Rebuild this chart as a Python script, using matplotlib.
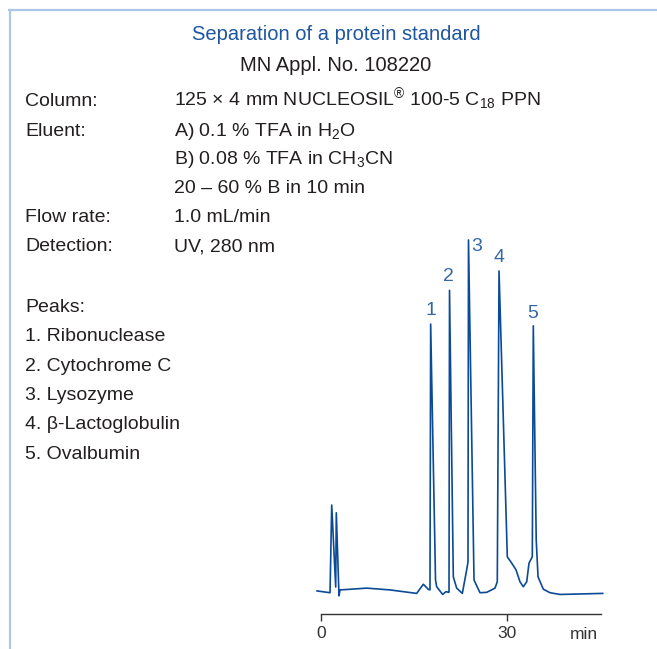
import matplotlib
matplotlib.use("Agg")
import matplotlib.pyplot as plt
from matplotlib.lines import Line2D

plt.rcParams['font.family'] = ['Liberation Sans', 'DejaVu Sans']
plt.rcParams['mathtext.fontset'] = 'custom'
plt.rcParams['mathtext.rm'] = 'Liberation Sans'
plt.rcParams['mathtext.it'] = 'Liberation Sans'

# ---------------- data ----------------
time_min = [-0.59, 1.50, 1.77, 2.41, 2.51, 2.94, 3.10, 4.07, 7.40, 11.1, 15.43, 16.50, 17.33,
            17.57, 17.68, 18.46, 18.65, 19.61, 20.14, 20.58,
            20.63, 20.71, 21.32, 21.86, 22.77, 23.47, 23.68,
            23.76, 24.65, 25.61, 26.69, 28.02, 28.39,
            28.67, 30.00, 30.71, 31.40, 32.04, 32.57, 33.12, 33.49, 34.02,
            34.18, 34.65, 34.94, 35.79, 36.86, 38.47, 45.34]
signal = [0.3, -0.2, 24.7, 1.4, 22.5, -1.1, 0.6, 0.7, 1.1, 0.6, -0.4, 2.2, 0.7,
          0.6, 76.1, 3.4, 1.5, -0.7, 0.1, -0.1,
          0.0, 85.7, 4.3, 1.1, -0.4, 6.3, 8.5,
          100.0, 3.4, -0.2, -0.1, 1.1, 2.9,
          91.2, 10.0, 8.2, 6.3, 2.9, 1.5, 2.9, 8.2, 10.0,
          75.6, 14.8, 4.3, 0.8, -0.2, -0.7, -0.4]

peak_labels = ["1", "2", "3", "4", "5"]
peak_times = [17.68, 20.71, 23.76, 28.67, 34.18]
peak_heights = [76.1, 85.7, 100.0, 91.2, 75.6]

x_ticks = [0, 30]
x_ticklabels = ["0", "30"]
x_unit = "min"

title = "Separation of a protein standard"
subtitle = "MN Appl. No. 108220"
info_rows = [
    ("Column:", r"125 × 4 mm NUCLEOSIL$^{\mathregular{®}}$ 100-5 C$_{\mathregular{18}}$ PPN"),
    ("Eluent:", r"A) 0.1 % TFA in H$_{\mathregular{2}}$O"),
    ("", r"B) 0.08 % TFA in CH$_{\mathregular{3}}$CN"),
    ("", "20 – 60 % B in 10 min"),
    ("Flow rate:", "1.0 mL/min"),
    ("Detection:", "UV, 280 nm"),
]
peak_names = ["Peaks:", "1. Ribonuclease", "2. Cytochrome C", "3. Lysozyme",
              "4. β-Lactoglobulin", "5. Ovalbumin"]

# ---------------- layout ----------------
W, H = 657, 649
DPI = 100
fig = plt.figure(figsize=(W / DPI, H / DPI), dpi=DPI)
fig.patch.set_facecolor("white")

def fx(px):
    return px / W

def fy(py):
    return 1 - py / H

TEXT = "#231f20"
BLUE_T = "#1f56a0"
LINE = "#0b4a97"
LABEL = "#3567a6"
FRAME = "#adc6e8"
FS = 14.0
FS_T = 14.5

# frame (top and left borders)
fig.add_artist(Line2D([fx(9), fx(657)], [fy(10), fy(10)], color=FRAME, lw=1.6,
                      transform=fig.transFigure))
fig.add_artist(Line2D([fx(10), fx(10)], [fy(10), fy(649)], color=FRAME, lw=1.6,
                      transform=fig.transFigure))

fig.text(fx(336), fy(40), title, color=BLUE_T, fontsize=FS_T, ha="center", va="baseline")
fig.text(fx(336), fy(71), subtitle, color=TEXT, fontsize=FS_T, ha="center", va="baseline")

row_base = [106, 136, 164, 193, 222, 251]
for (lab, val), yb in zip(info_rows, row_base):
    if lab:
        fig.text(fx(25), fy(yb), lab, color=TEXT, fontsize=FS, ha="left", va="baseline")
    fig.text(fx(174), fy(yb), val, color=TEXT, fontsize=FS, ha="left", va="baseline")

peak_base = [312, 341, 371, 400, 429, 459]
for name, yb in zip(peak_names, peak_base):
    fig.text(fx(25), fy(yb), name, color=TEXT, fontsize=FS, ha="left", va="baseline")

# chromatogram axes: t -> 320.7 + 6.22 t px ; signal -> 592 - 3.52 s px
xl = (-1.0, 46.0)
yl = (-6.25, 103.0)
left_px = 320.7 + 6.22 * xl[0]
right_px = 320.7 + 6.22 * xl[1]
bottom_px = 592 - 3.52 * yl[0]
top_px = 592 - 3.52 * yl[1]
ax = fig.add_axes([fx(left_px), fy(bottom_px), (right_px - left_px) / W,
                   (bottom_px - top_px) / H])
ax.set_facecolor("none")
ax.plot(time_min, signal, color=LINE, lw=1.2, solid_joinstyle="round")
ax.set_xlim(*xl)
ax.set_ylim(*yl)
for s in ("top", "right", "left"):
    ax.spines[s].set_visible(False)
ax.spines["bottom"].set_bounds(0, 45)
ax.spines["bottom"].set_color("#333333")
ax.spines["bottom"].set_linewidth(1.0)
ax.set_yticks([])
ax.set_xticks(x_ticks)
ax.set_xticklabels(x_ticklabels)
ax.tick_params(axis="x", direction="out", length=5, width=1.0, color="#333333",
               labelsize=FS - 1.5, labelcolor="#333333", pad=4)
ax.annotate(x_unit, xy=(45, yl[0]), xycoords="data", xytext=(-2, -14.5),
            textcoords="offset points", fontsize=FS - 1.5, color="#333333",
            ha="right", va="center")

# peak labels
offsets = [(0, 10), (-1, 10), (6, -5), (0, 10), (-0.5, 9)]
for lab, t, h, off in zip(peak_labels, peak_times, peak_heights, offsets):
    ax.annotate(lab, xy=(t, h), xytext=off, textcoords="offset points",
                ha="center", va="center", color=LABEL, fontsize=FS)

fig.savefig("out.png", dpi=DPI, facecolor="white")
